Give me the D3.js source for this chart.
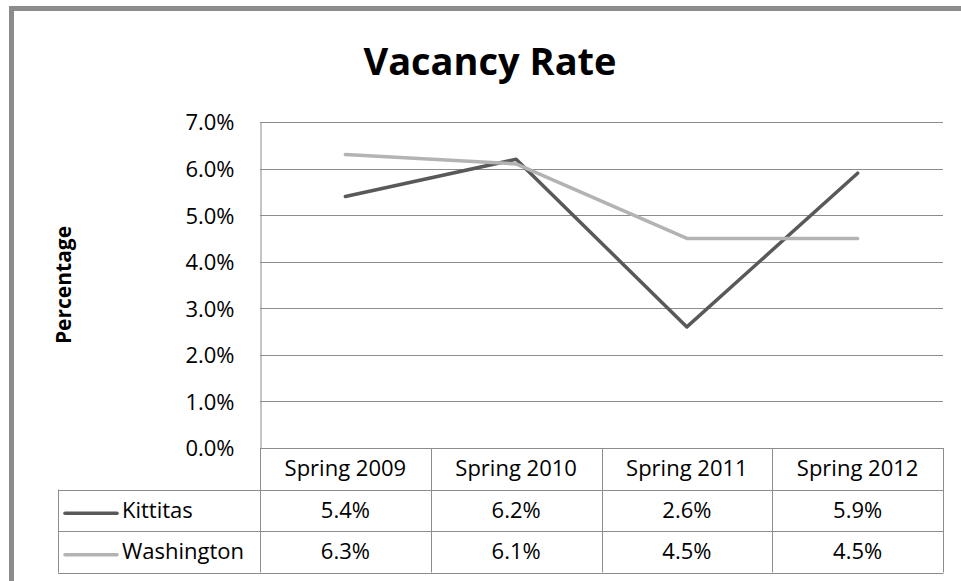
<!DOCTYPE html>
<html>
<head>
<meta charset="utf-8">
<script src="https://cdn.jsdelivr.net/npm/d3@7"></script>
<style>
  html, body { margin: 0; padding: 0; background: #fff; overflow: hidden; }
  svg { display: block; }
  text { font-family: "Open Sans", sans-serif; fill: #000; }
</style>
</head>
<body>
<div id="chart"></div>
<script>
var categories = ["Spring 2009", "Spring 2010", "Spring 2011", "Spring 2012"];
var kittitas = [5.4, 6.2, 2.6, 5.9];
var washington = [6.3, 6.1, 4.5, 4.5];
var yTicks = [0, 1, 2, 3, 4, 5, 6, 7];

var series = [
  {name: "Kittitas", values: kittitas, color: "#595959"},
  {name: "Washington", values: washington, color: "#b3b3b3"}
];

var width = 961;
var height = 581;
var plotLeft = 260, plotRight = 943, plotTop = 122, plotBottom = 448;
var rowH = 41.5;
var tableLeft = 58;
var gridColor = "#8c8c8c";

var svg = d3.select("#chart").append("svg")
  .attr("width", width)
  .attr("height", height);

/* outer frame (only top and left edges show in the window) */
svg.append("path")
  .attr("d", `M11.5,${height}V8.5H${width}`)
  .attr("fill", "none")
  .attr("stroke", "#8c8c8c")
  .attr("stroke-width", 5);

/* title */
svg.append("text")
  .attr("x", 490).attr("y", 75)
  .attr("text-anchor", "middle")
  .style("font-size", "38px")
  .style("font-weight", "bold")
  .text("Vacancy Rate");

/* scales */
var xScale = d3.scaleBand()
  .domain(categories)
  .range([plotLeft, plotRight]);

var yScale = d3.scaleLinear()
  .domain([0, 7])
  .range([plotBottom, plotTop]);

/* gridlines */
svg.append("g")
  .selectAll("line")
  .data(yTicks).enter()
  .append("line")
  .attr("x1", plotLeft).attr("x2", plotRight)
  .attr("y1", d => Math.round(yScale(d)) + 0.5)
  .attr("y2", d => Math.round(yScale(d)) + 0.5)
  .attr("stroke", gridColor)
  .attr("stroke-width", 1);

/* y axis */
var yAxis = d3.axisLeft(yScale)
  .tickValues(yTicks)
  .tickSize(0)
  .tickPadding(26)
  .tickFormat(d => d.toFixed(1) + "%");

svg.append("g")
  .attr("class", "y axis")
  .attr("transform", `translate(${plotLeft + 0.5}, 0)`)
  .call(yAxis)
  .call(g => g.select(".domain").attr("stroke", gridColor))
  .selectAll("text")
  .style("font-size", "22px")
  .style("font-family", "'Open Sans', sans-serif")
  .attr("dy", "0.36em");

svg.append("text")
  .attr("transform", "translate(71, 285) rotate(-90)")
  .attr("text-anchor", "middle")
  .style("font-size", "21px")
  .style("font-weight", "bold")
  .text("Percentage");

/* lines */
var line = d3.line()
  .x((d, i) => xScale(categories[i]) + xScale.bandwidth() / 2)
  .y(d => yScale(d));

svg.append("g")
  .selectAll("path")
  .data(series).enter()
  .append("path")
  .attr("d", d => line(d.values))
  .attr("fill", "none")
  .attr("stroke", d => d.color)
  .attr("stroke-width", 3.5)
  .attr("stroke-linejoin", "round")
  .attr("stroke-linecap", "round");

/* data table */
var table = svg.append("g");
var tableBottom = plotBottom + rowH * 3;

// column lines
table.selectAll(".col")
  .data(categories.concat(["end"])).enter()
  .append("line")
  .attr("x1", (d, i) => Math.round(i < categories.length ? xScale(d) : plotRight) + 0.5)
  .attr("x2", (d, i) => Math.round(i < categories.length ? xScale(d) : plotRight) + 0.5)
  .attr("y1", plotBottom)
  .attr("y2", tableBottom)
  .attr("stroke", gridColor);

// horizontal row lines
table.selectAll(".row")
  .data([1, 2, 3]).enter()
  .append("line")
  .attr("x1", tableLeft)
  .attr("x2", plotRight + 0.5)
  .attr("y1", d => Math.round(plotBottom + rowH * d) + 0.5)
  .attr("y2", d => Math.round(plotBottom + rowH * d) + 0.5)
  .attr("stroke", gridColor);

table.append("line")
  .attr("x1", tableLeft + 0.5).attr("x2", tableLeft + 0.5)
  .attr("y1", plotBottom + rowH).attr("y2", tableBottom)
  .attr("stroke", gridColor);

// header labels
table.selectAll(".cat")
  .data(categories).enter()
  .append("text")
  .attr("x", d => xScale(d) + xScale.bandwidth() / 2)
  .attr("y", plotBottom + rowH / 2)
  .attr("dy", "0.35em")
  .attr("text-anchor", "middle")
  .style("font-size", "22px")
  .text(d => d);

// series rows
var rows = table.selectAll(".srow")
  .data(series).enter()
  .append("g")
  .attr("transform", (d, i) => `translate(0, ${plotBottom + rowH * (i + 1)})`);

rows.append("line")
  .attr("x1", 65).attr("x2", 117)
  .attr("y1", rowH / 2 + 3).attr("y2", rowH / 2 + 3)
  .attr("stroke", d => d.color)
  .attr("stroke-width", 3.5)
  .attr("stroke-linecap", "round");

rows.append("text")
  .attr("x", 122)
  .attr("y", rowH / 2)
  .attr("dy", "0.35em")
  .style("font-size", "22px")
  .text(d => d.name);

rows.selectAll(".val")
  .data(d => d.values).enter()
  .append("text")
  .attr("x", (d, i) => xScale(categories[i]) + xScale.bandwidth() / 2)
  .attr("y", rowH / 2)
  .attr("dy", "0.35em")
  .attr("text-anchor", "middle")
  .style("font-size", "22px")
  .text(d => d.toFixed(1) + "%");
</script>
</body>
</html>
